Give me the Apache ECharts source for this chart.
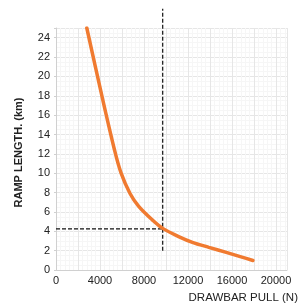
<!DOCTYPE html>
<html><head><meta charset="utf-8">
<script src="https://cdn.jsdelivr.net/npm/echarts@6/dist/echarts.min.js"></script>
<style>html,body{margin:0;padding:0;background:#fff}#c{width:304px;height:305px}</style>
</head><body><div id="c"></div>
<script>
const pullN = [2800, 4050, 5320, 5920, 6730, 7500, 8780, 9700, 11200, 12400, 13900, 15400, 16900, 17900];
const rampKm = [25, 18.6, 12.4, 10.0, 7.9, 6.6, 5.15, 4.3, 3.43, 2.86, 2.34, 1.84, 1.33, 0.98];
const vLineX = [9700, 9700];
const vLineY = [2, 27];
const hLineX = [0, 9700];
const hLineY = [4.25, 4.25];
const xTickLabels = [0, 4000, 8000, 12000, 16000, 20000];
const yTickLabels = [0, 2, 4, 6, 8, 10, 12, 14, 16, 18, 20, 22, 24];

const chart = echarts.init(document.getElementById('c'));
const font = 'Liberation Sans, Arial, sans-serif';
chart.setOption({
  animation: false,
  grid: {left: 56, right: 17, top: 28, bottom: 35},
  xAxis: {
    type: 'value', min: 0, max: 21000, interval: 2000,
    axisLine: {show: true, lineStyle: {color: '#d0d0d0'}},
    axisTick: {show: false},
    axisLabel: {color: '#222', fontSize: 11, fontFamily: font, margin: 5,
      formatter: v => xTickLabels.includes(v) ? String(v) : ''},
    splitLine: {show: true, lineStyle: {color: '#e6e6e6', width: 1}},
    minorTick: {show: false, splitNumber: 5},
    minorSplitLine: {show: true, lineStyle: {color: '#f6f6f6', width: 1}}
  },
  yAxis: {
    type: 'value', min: 0, max: 25, interval: 2,
    axisLine: {show: true, lineStyle: {color: '#d0d0d0'}},
    axisTick: {show: true, length: 2, lineStyle: {color: '#d0d0d0'}},
    axisLabel: {color: '#222', fontSize: 11, fontFamily: font, margin: 6,
      formatter: v => yTickLabels.includes(v) ? String(v) : ''},
    splitLine: {show: true, lineStyle: {color: '#e6e6e6', width: 1}},
    minorTick: {show: false, splitNumber: 4},
    minorSplitLine: {show: true, lineStyle: {color: '#f6f6f6', width: 1}}
  },
  series: [
    {type: 'line', data: pullN.map((x, i) => [x, rampKm[i]]), smooth: 0.35, showSymbol: false,
     lineStyle: {color: '#f07a30', width: 3.5, cap: 'round'}, z: 3},
    {type: 'line', data: vLineX.map((x, i) => [x, vLineY[i]]), showSymbol: false, clip: false,
     lineStyle: {color: '#111', width: 1.2, type: [4, 2]}, z: 2},
    {type: 'line', data: hLineX.map((x, i) => [x, hLineY[i]]), showSymbol: false, clip: false,
     lineStyle: {color: '#111', width: 1.2, type: [4, 2]}, z: 2}
  ],
  graphic: [
    {type: 'text', left: 13, top: 'middle', rotation: Math.PI / 2,
     style: {text: 'RAMP LENGTH. (km)', fill: '#222', font: 'bold 11px ' + font}},
    {type: 'text', right: 6, top: 292,
     style: {text: 'DRAWBAR PULL (N)', fill: '#222', font: '11.5px ' + font}}
  ]
});
</script></body></html>
